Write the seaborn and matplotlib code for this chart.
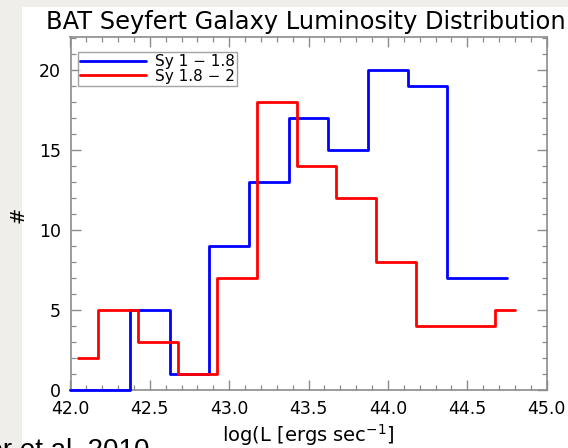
import numpy as np
import pandas as pd
import matplotlib
matplotlib.use("Agg")
import matplotlib.pyplot as plt
from matplotlib.patches import Rectangle
from matplotlib.ticker import MultipleLocator
import seaborn as sns

# Bin centres (log L) and counts for each Seyfert class
sy1_logL = [42.0, 42.25, 42.5, 42.75, 43.0, 43.25, 43.5, 43.75, 44.0, 44.25, 44.5, 44.75]
sy1_counts = [0, 0, 5, 1, 9, 13, 17, 15, 20, 19, 7, 7]
sy2_logL = [42.05, 42.3, 42.55, 42.8, 43.05, 43.3, 43.55, 43.8, 44.05, 44.3, 44.55, 44.8]
sy2_counts = [2, 5, 3, 1, 7, 18, 14, 12, 8, 4, 4, 5]
series_names = ["Sy 1 \u2212 1.8", "Sy 1.8 \u2212 2"]
series_colors = ["#0000ff", "#ff0000"]
x_ticks = [42.0, 42.5, 43.0, 43.5, 44.0, 44.5, 45.0]
y_ticks = [0, 5, 10, 15, 20]

df = pd.concat([
    pd.DataFrame({"logL": sy1_logL, "count": sy1_counts, "cls": series_names[0]}),
    pd.DataFrame({"logL": sy2_logL, "count": sy2_counts, "cls": series_names[1]}),
])

sns.set_style("white")
plt.rcParams["font.family"] = ["DejaVu Sans"]
plt.rcParams["text.color"] = "black"
plt.rcParams["axes.labelcolor"] = "black"

fig = plt.figure(figsize=(5.68, 4.48), dpi=100)
fig.patch.set_facecolor("white")
# grey page margins on the left and top
fig.add_artist(Rectangle((0, 0), 22 / 568, 1, transform=fig.transFigure,
                         facecolor="#efeeea", edgecolor="none", zorder=0))
fig.add_artist(Rectangle((0, 1 - 7 / 448), 1, 7 / 448, transform=fig.transFigure,
                         facecolor="#efeeea", edgecolor="none", zorder=0))

ax = fig.add_axes([70.5 / 568, 1 - 390 / 448, 476.2 / 568, 353 / 448])
ax.set_facecolor("white")

sns.lineplot(data=df, x="logL", y="count", hue="cls", palette=series_colors,
             drawstyle="steps-mid", linewidth=2.0, ax=ax, estimator=None,
             sort=False, legend=True, clip_on=False, zorder=3)

ax.set_xlim(42.0, 45.0)
ax.set_ylim(0, 22.06)
ax.set_xticks(x_ticks)
ax.set_xticklabels([f"{v:.1f}" for v in x_ticks])
ax.set_yticks(y_ticks)
ax.xaxis.set_minor_locator(MultipleLocator(0.1))
ax.yaxis.set_minor_locator(MultipleLocator(1))

edge = "#8c8c8c"
for s in ax.spines.values():
    s.set_color(edge)
    s.set_linewidth(1.2)
    s.set_visible(True)
ax.tick_params(which="both", direction="in", top=True, right=True,
               bottom=True, left=True, colors=edge, labelcolor="black")
ax.tick_params(which="major", length=7, width=1.0, labelsize=12.5, pad=7)
ax.tick_params(which="minor", length=3.5, width=0.9)

ax.set_xlabel("log(L [ergs sec$^{-1}$]", fontsize=14, labelpad=3)
ax.set_ylabel("#", fontsize=14)
ax.yaxis.set_label_coords(-0.091, 0.496)
ax.set_title("BAT Seyfert Galaxy Luminosity Distribution", fontsize=17.4, pad=6,
             x=0.495)

leg = ax.legend(loc="upper left", bbox_to_anchor=(0.016, 0.9575), frameon=True,
                fancybox=False, fontsize=11, handlelength=4.3, handletextpad=0.6,
                borderpad=0.15, labelspacing=-0.05, borderaxespad=0)
leg.get_frame().set_edgecolor(edge)
leg.get_frame().set_linewidth(1.0)
leg.set_zorder(5)

fig.text(150 / 568, 1 - 458 / 448, "Winter et al. 2010", ha="right", va="baseline",
         fontsize=20, family=["Liberation Sans", "DejaVu Sans"])

fig.savefig("out.png", dpi=100)
